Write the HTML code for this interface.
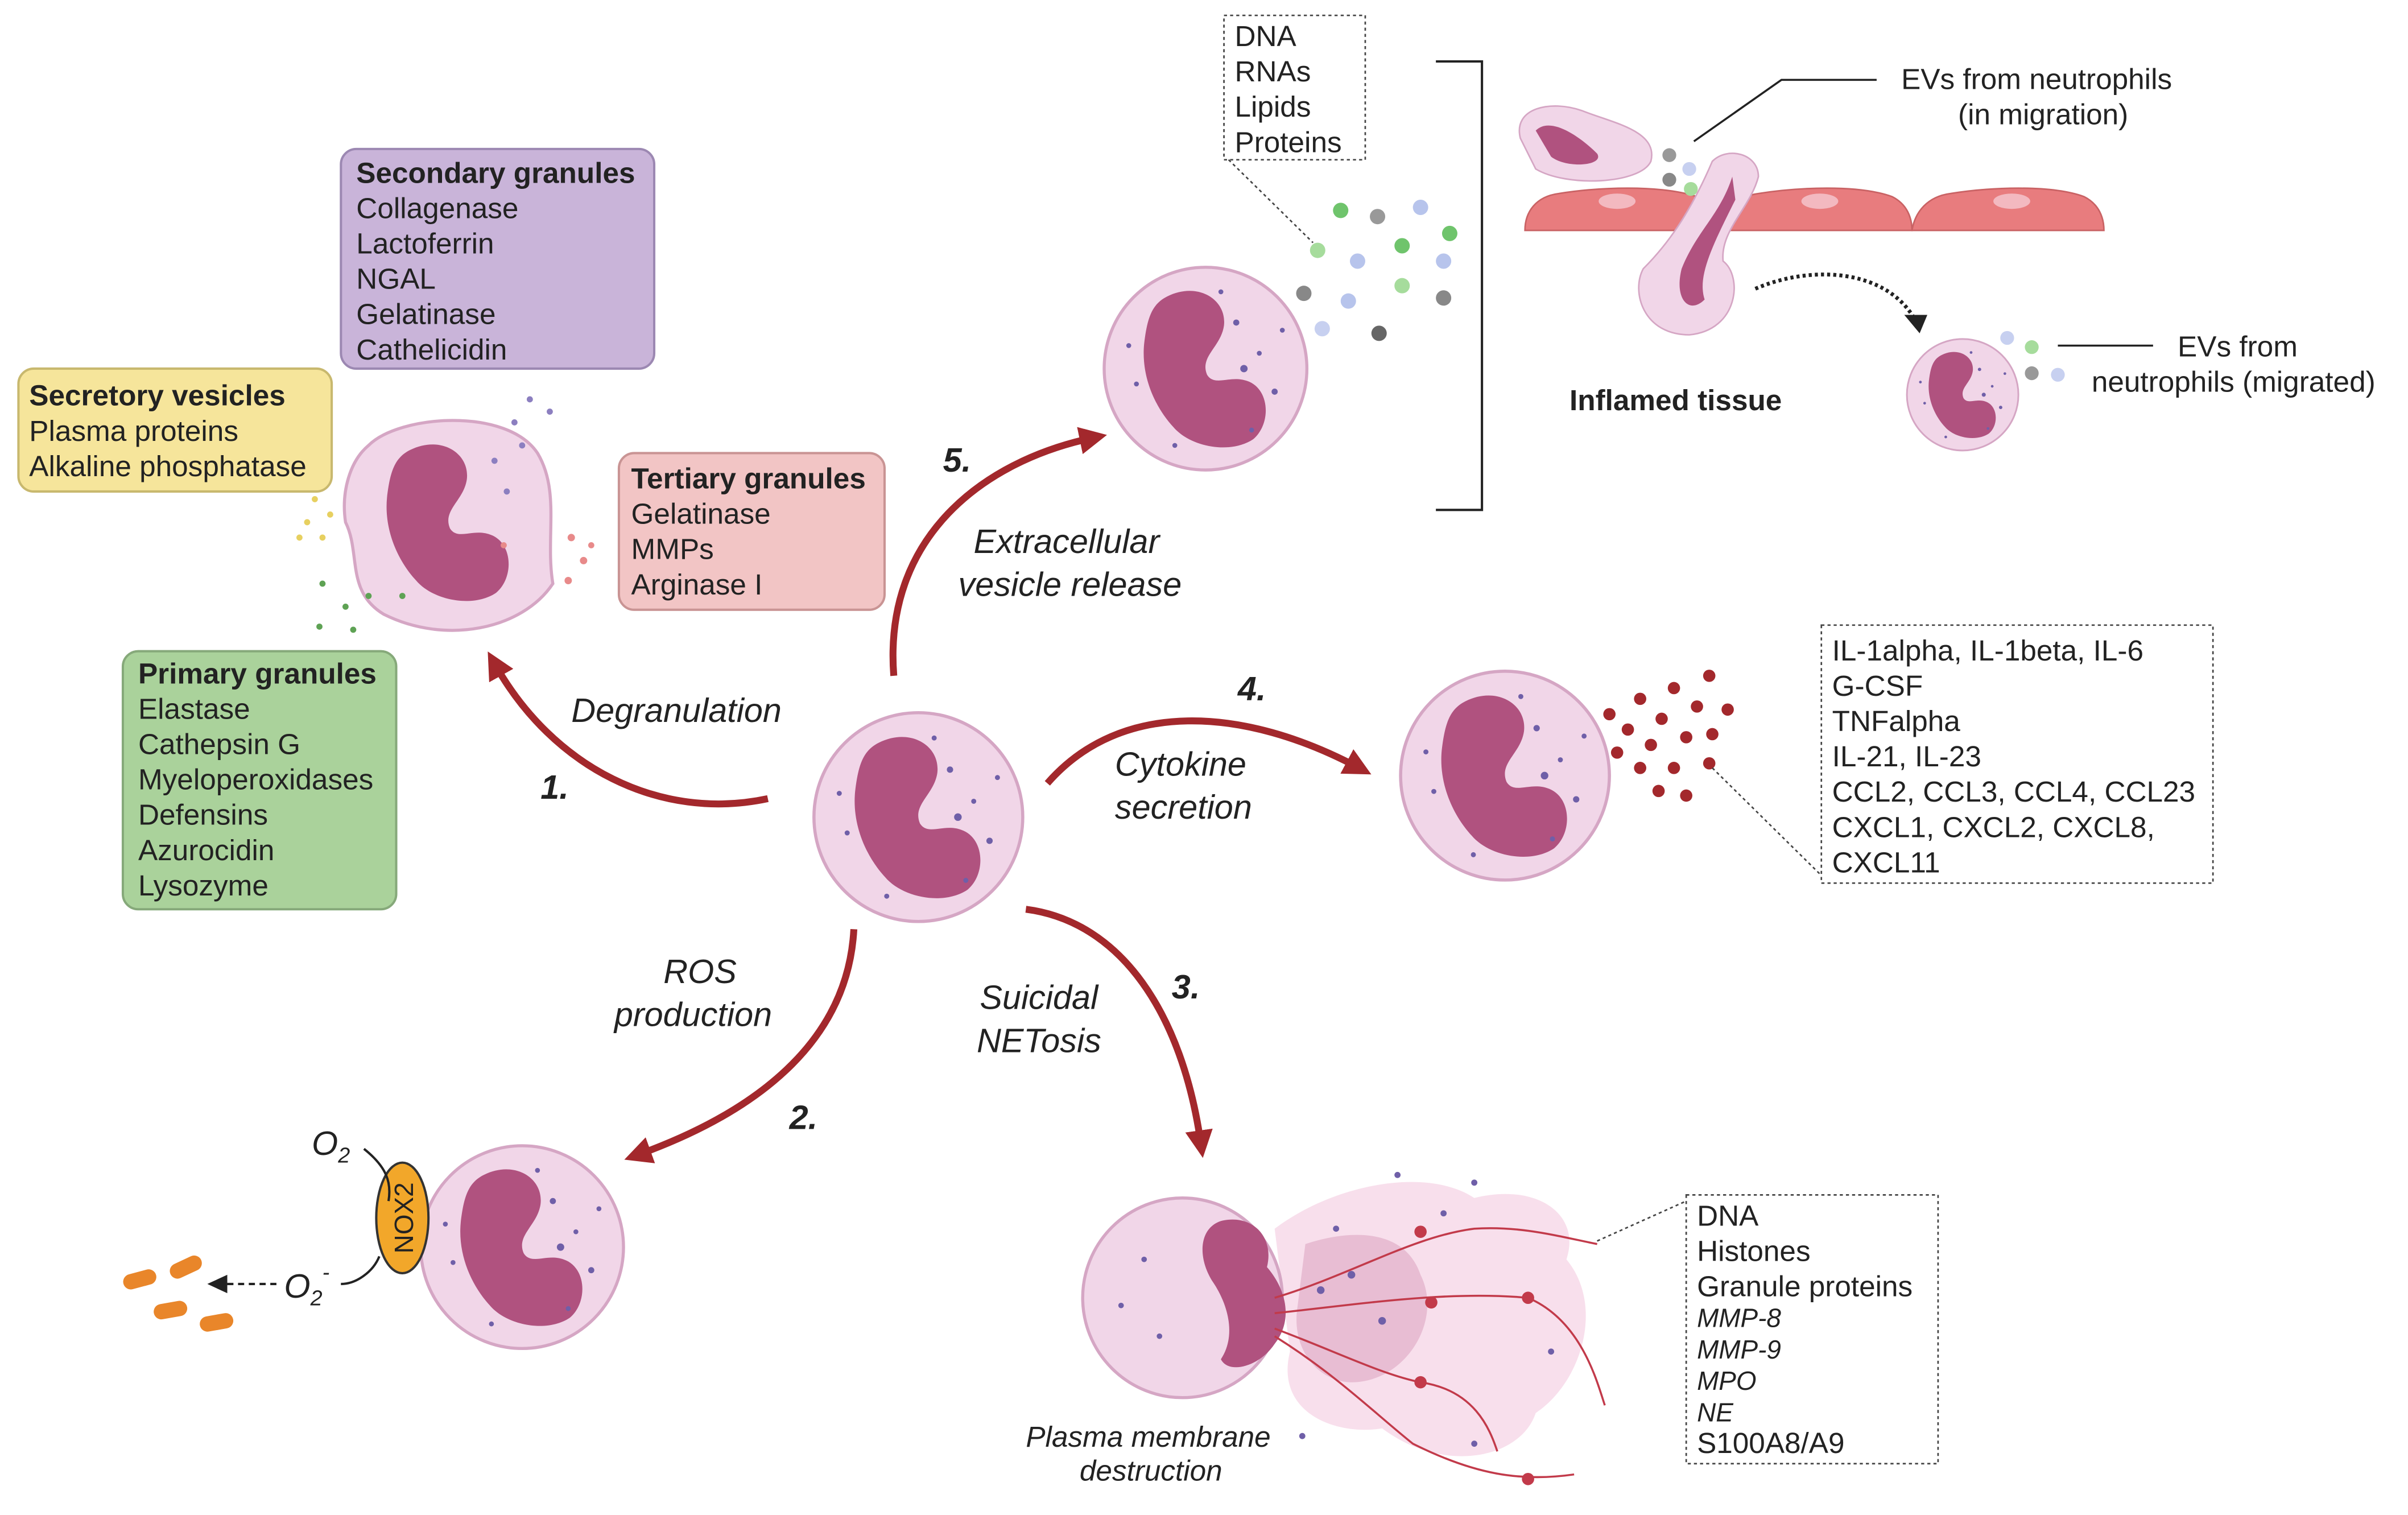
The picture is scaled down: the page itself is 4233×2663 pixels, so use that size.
<!DOCTYPE html>
<html><head><meta charset="utf-8"><style>
html,body{margin:0;padding:0;background:#fff;}
svg{display:block;}
text{font-family:"Liberation Sans",sans-serif;fill:#222;}
.t{font-size:19px;}
.b{font-weight:bold;}
.i{font-style:italic;font-size:22px;}
.n{font-style:italic;font-weight:bold;font-size:22px;}
</style></head><body>
<svg width="4233" height="2663" viewBox="0 0 1568 986.4" xmlns="http://www.w3.org/2000/svg">
<defs>
<g id="nuc"><path d="M-25,-47 C-5,-57 14,-45 12,-28 C10,-14 -4,-8 1,4 C6,12 16,4 27,8 C42,13 43,36 31,46 C16,56 -10,51 -21,38 C-33,25 -42,5 -40,-16 C-38,-33 -35,-42 -25,-47Z" fill="#b0527f"/></g>
<g id="cell"><circle r="66" fill="#f1d6e8" stroke="#d5a6c4" stroke-width="2"/><use href="#nuc"/>
<g fill="#6f5fa8"><circle cx="20" cy="-30" r="2"/><circle cx="35" cy="-10" r="1.6"/><circle cx="-45" cy="10" r="1.6"/><circle cx="30" cy="40" r="1.6"/><circle cx="-20" cy="50" r="1.6"/><circle cx="45" cy="15" r="2"/><circle cx="10" cy="-50" r="1.6"/><circle cx="-50" cy="-15" r="1.6"/><circle cx="25" cy="0" r="2.4"/><circle cx="50" cy="-25" r="1.6"/></g></g>
<marker id="ah" markerWidth="4" markerHeight="4" refX="2" refY="2" orient="auto" markerUnits="strokeWidth"><path d="M0,0 L4,2 L0,4Z" fill="#a3282c"/></marker>
</defs>
<g fill="none" stroke="#a3282c" stroke-width="4.5" marker-end="url(#ah)">
<path d="M500,520 C430,535 360,500 322,432"/>
<path d="M582,440 C575,350 640,300 712,285"/>
<path d="M682,510 C730,455 810,460 885,500"/>
<path d="M668,592 C730,600 770,660 782,745"/>
<path d="M556,605 C552,680 490,725 415,752"/>
</g>
<text class="i" x="372" y="470">Degranulation</text>
<text class="n" x="352" y="520">1.</text>
<text class="i" x="634" y="360">Extracellular</text>
<text class="i" x="624" y="388">vesicle release</text>
<text class="n" x="614" y="307">5.</text>
<text class="i" x="726" y="505">Cytokine</text>
<text class="i" x="726" y="533">secretion</text>
<text class="n" x="806" y="456">4.</text>
<text class="i" x="638" y="657">Suicidal</text>
<text class="i" x="636" y="685">NETosis</text>
<text class="n" x="763" y="650">3.</text>
<text class="i" x="432" y="640">ROS</text>
<text class="i" x="400" y="668">production</text>
<text class="n" x="514" y="735">2.</text>
<rect x="222" y="97" width="204" height="143" rx="10" fill="#c9b4d9" stroke="#9c88b2" stroke-width="1.5"/>
<text class="t" x="232" y="119"><tspan class="b">Secondary granules</tspan><tspan x="232" dy="23">Collagenase</tspan><tspan x="232" dy="23">Lactoferrin</tspan><tspan x="232" dy="23">NGAL</tspan><tspan x="232" dy="23">Gelatinase</tspan><tspan x="232" dy="23">Cathelicidin</tspan></text>
<rect x="12" y="240" width="204" height="80" rx="10" fill="#f6e59b" stroke="#c8b86e" stroke-width="1.5"/>
<text class="t" x="19" y="264"><tspan class="b">Secretory vesicles</tspan><tspan x="19" dy="23">Plasma proteins</tspan><tspan x="19" dy="23">Alkaline phosphatase</tspan></text>
<rect x="403" y="295" width="173" height="102" rx="10" fill="#f2c5c5" stroke="#c99494" stroke-width="1.5"/>
<text class="t" x="411" y="318"><tspan class="b">Tertiary granules</tspan><tspan x="411" dy="23">Gelatinase</tspan><tspan x="411" dy="23">MMPs</tspan><tspan x="411" dy="23">Arginase I</tspan></text>
<rect x="80" y="424" width="178" height="168" rx="10" fill="#aad29b" stroke="#86a97a" stroke-width="1.5"/>
<text class="t" x="90" y="445"><tspan class="b">Primary granules</tspan><tspan x="90" dy="23">Elastase</tspan><tspan x="90" dy="23">Cathepsin G</tspan><tspan x="90" dy="23">Myeloperoxidases</tspan><tspan x="90" dy="23">Defensins</tspan><tspan x="90" dy="23">Azurocidin</tspan><tspan x="90" dy="23">Lysozyme</tspan></text>
<path d="M240,290 C260,270 330,265 350,295 C365,320 355,350 360,380 C340,410 290,420 250,400 C225,385 235,360 225,340 C222,320 228,300 240,290Z" fill="#f1d6e8" stroke="#d5a6c4" stroke-width="2"/>
<g transform="translate(292,340)"><use href="#nuc"/></g>
<g fill="#8c7fc0"><circle cx="345" cy="260" r="2"/><circle cx="358" cy="268" r="2"/><circle cx="335" cy="275" r="2"/><circle cx="322" cy="300" r="2"/><circle cx="330" cy="320" r="2"/><circle cx="340" cy="290" r="2"/></g>
<g fill="#e7d060"><circle cx="200" cy="340" r="2"/><circle cx="210" cy="350" r="2"/><circle cx="195" cy="350" r="2"/><circle cx="215" cy="335" r="2"/><circle cx="205" cy="325" r="2"/></g>
<g fill="#e88a8a"><circle cx="372" cy="350" r="2.4"/><circle cx="380" cy="365" r="2.4"/><circle cx="370" cy="378" r="2.4"/><circle cx="385" cy="355" r="2"/><circle cx="328" cy="355" r="2"/></g>
<g fill="#5ea254"><circle cx="210" cy="380" r="2"/><circle cx="225" cy="395" r="2"/><circle cx="208" cy="408" r="2"/><circle cx="240" cy="388" r="2"/><circle cx="262" cy="388" r="2"/><circle cx="230" cy="410" r="2"/></g>
<g transform="translate(598,532) scale(1.03)"><use href="#cell"/></g>
<g transform="translate(785,240)"><use href="#cell"/></g>
<g transform="translate(980,505) scale(1.03)"><use href="#cell"/></g>
<g transform="translate(340,812)"><use href="#cell"/></g>
<g><circle cx="873" cy="137" r="5" fill="#6fc46c"/><circle cx="897" cy="141" r="5" fill="#999"/><circle cx="925" cy="135" r="5" fill="#b7c4ec"/><circle cx="944" cy="152" r="5" fill="#6fc46c"/><circle cx="913" cy="160" r="5" fill="#6fc46c"/><circle cx="884" cy="170" r="5" fill="#b7c4ec"/><circle cx="858" cy="163" r="5" fill="#a6dc9c"/><circle cx="849" cy="191" r="5" fill="#888"/><circle cx="878" cy="196" r="5" fill="#b7c4ec"/><circle cx="913" cy="186" r="5" fill="#a6dc9c"/><circle cx="940" cy="170" r="5" fill="#b7c4ec"/><circle cx="940" cy="194" r="5" fill="#888"/><circle cx="861" cy="214" r="5" fill="#c7d0f0"/><circle cx="898" cy="217" r="5" fill="#666"/></g>
<rect x="797" y="10" width="92" height="94" fill="none" stroke="#444" stroke-dasharray="2,2"/>
<text class="t" x="804" y="30"><tspan>DNA</tspan><tspan x="804" dy="23">RNAs</tspan><tspan x="804" dy="23">Lipids</tspan><tspan x="804" dy="23">Proteins</tspan></text>
<path d="M800,104 L855,158" stroke="#444" stroke-dasharray="2,2" fill="none"/>
<path d="M935,40 L965,40 L965,332 L935,332" fill="none" stroke="#222" stroke-width="1.5"/>
<g fill="#e87c7e" stroke="#c96264" stroke-width="1">
<path d="M993,150 C993,138 1000,128 1015,126 C1040,122 1080,120 1105,128 C1115,133 1120,142 1120,150Z"/>
<path d="M1120,150 C1122,138 1130,128 1145,126 C1170,122 1210,120 1232,128 C1242,133 1245,142 1245,150Z"/>
<path d="M1245,150 C1247,138 1255,128 1270,126 C1295,122 1335,120 1357,128 C1367,133 1370,142 1370,150Z"/>
</g>
<g fill="#f3b9c0"><ellipse cx="1053" cy="131" rx="12" ry="5"/><ellipse cx="1185" cy="131" rx="12" ry="5"/><ellipse cx="1310" cy="131" rx="12" ry="5"/></g>
<path d="M990,90 C985,70 1010,65 1030,72 C1050,80 1080,85 1075,105 C1068,120 1020,122 1000,110 Z" fill="#f1d6e8" stroke="#d5a6c4"/>
<path d="M1000,85 C1010,75 1030,90 1040,100 C1045,108 1020,110 1010,102Z" fill="#b0527f"/>
<path d="M1115,105 C1125,95 1145,100 1145,115 C1140,135 1120,150 1122,170 C1135,180 1132,215 1100,218 C1070,218 1062,190 1070,175 C1085,160 1100,140 1115,105Z" fill="#f1d6e8" stroke="#d5a6c4"/>
<path d="M1128,115 C1120,140 1105,150 1095,175 C1090,195 1100,205 1110,195 C1105,180 1115,160 1130,130Z" fill="#b0527f"/>
<g><circle cx="1087" cy="101" r="4.5" fill="#999"/><circle cx="1100" cy="110" r="4.5" fill="#c7d0f0"/><circle cx="1087" cy="117" r="4.5" fill="#888"/><circle cx="1101" cy="123" r="4.5" fill="#a6dc9c"/></g>
<path d="M1103,92 L1160,52 L1222,52" fill="none" stroke="#222" stroke-width="1.3"/>
<text class="t" x="1238" y="58">EVs from neutrophils</text>
<text class="t" x="1275" y="81">(in migration)</text>
<path d="M1143,188 C1180,172 1230,175 1248,210" fill="none" stroke="#222" stroke-width="2.5" stroke-dasharray="2,2"/>
<path d="M1240,205 L1255,205 L1250,217Z" fill="#222"/>
<text class="t b" x="1022" y="267">Inflamed tissue</text>
<g transform="translate(1278,257) scale(0.55)"><use href="#cell"/></g>
<g><circle cx="1307" cy="220" r="4.5" fill="#c7d0f0"/><circle cx="1323" cy="226" r="4.5" fill="#a6dc9c"/><circle cx="1323" cy="243" r="4.5" fill="#999"/><circle cx="1340" cy="244" r="4.5" fill="#c7d0f0"/></g>
<path d="M1340,225 L1402,225" stroke="#222" stroke-width="1.3"/>
<text class="t" x="1418" y="232">EVs from</text>
<text class="t" x="1362" y="255">neutrophils (migrated)</text>
<g fill="#a3282c"><circle cx="1048" cy="465" r="4"/><circle cx="1068" cy="455" r="4"/><circle cx="1090" cy="448" r="4"/><circle cx="1113" cy="440" r="4"/><circle cx="1060" cy="475" r="4"/><circle cx="1082" cy="468" r="4"/><circle cx="1105" cy="460" r="4"/><circle cx="1125" cy="462" r="4"/><circle cx="1053" cy="490" r="4"/><circle cx="1075" cy="485" r="4"/><circle cx="1098" cy="480" r="4"/><circle cx="1115" cy="478" r="4"/><circle cx="1068" cy="500" r="4"/><circle cx="1090" cy="500" r="4"/><circle cx="1080" cy="515" r="4"/><circle cx="1098" cy="518" r="4"/><circle cx="1113" cy="497" r="4"/></g>
<rect x="1186" y="407" width="255" height="168" fill="none" stroke="#444" stroke-dasharray="2,2"/>
<path d="M1115,500 L1186,570" stroke="#444" stroke-dasharray="2,2" fill="none"/>
<text class="t" x="1193" y="430"><tspan>IL-1alpha, IL-1beta, IL-6</tspan><tspan x="1193" dy="23">G-CSF</tspan><tspan x="1193" dy="23">TNFalpha</tspan><tspan x="1193" dy="23">IL-21, IL-23</tspan><tspan x="1193" dy="23">CCL2, CCL3, CCL4, CCL23</tspan><tspan x="1193" dy="23">CXCL1, CXCL2, CXCL8,</tspan><tspan x="1193" dy="23">CXCL11</tspan></text>
<ellipse cx="262" cy="793" rx="17" ry="36" fill="#f2a72a" stroke="#333" stroke-width="1.5"/>
<text x="262" y="800" font-size="17" text-anchor="middle" transform="rotate(-90 262 793)">NOX2</text>
<text x="203" y="752" font-size="22" font-style="italic">O<tspan font-size="14" dy="5">2</tspan></text>
<path d="M237,748 C252,760 255,770 253,782" fill="none" stroke="#222" stroke-width="1.5"/>
<text x="185" y="845" font-size="22" font-style="italic">O<tspan font-size="14" dy="5">2</tspan><tspan font-size="14" dy="-17">-</tspan></text>
<path d="M247,818 C243,828 232,836 222,836" fill="none" stroke="#222" stroke-width="1.5"/>
<path d="M180,836 L145,836" stroke="#222" stroke-width="1.5" stroke-dasharray="4,3"/>
<path d="M135,836 L148,830 L148,842Z" fill="#222"/>
<g fill="#e9862a"><rect x="80" y="828" width="22" height="10" rx="5" transform="rotate(-15 91 833)"/><rect x="110" y="820" width="22" height="10" rx="5" transform="rotate(-25 121 825)"/><rect x="100" y="848" width="22" height="10" rx="5" transform="rotate(-10 111 853)"/><rect x="130" y="856" width="22" height="10" rx="5" transform="rotate(-10 141 861)"/></g>
<path d="M830,800 C870,770 930,760 960,780 C1000,770 1030,790 1020,820 C1045,850 1030,900 1000,920 C990,950 940,960 900,930 C870,935 830,920 840,880 Z" fill="#f7dbea" opacity="0.9"/>
<path d="M850,810 C880,800 915,800 925,830 C940,860 915,900 880,900 C860,900 840,880 845,850 Z" fill="#e4b4cd" opacity="0.8"/>
<circle cx="770" cy="845" r="65" fill="#f1d6e8" stroke="#d5a6c4" stroke-width="2"/>
<path d="M795,795 C815,790 830,805 825,825 C838,840 842,860 830,875 C820,890 800,895 795,885 C805,870 800,850 790,835 C780,820 780,800 795,795Z" fill="#b0527f"/>
<g fill="none" stroke="#c23a4a" stroke-width="1.3">
<path d="M830,845 C880,830 920,805 960,800 C990,798 1015,805 1040,810"/>
<path d="M830,855 C880,850 940,840 995,845 C1030,860 1040,900 1045,915"/>
<path d="M830,865 C870,880 900,895 925,900 C960,905 970,930 975,945"/>
<path d="M830,870 C870,895 895,920 920,940 C960,960 990,965 1025,960"/>
</g>
<g fill="#c23a4a"><circle cx="925" cy="802" r="4"/><circle cx="995" cy="845" r="4"/><circle cx="932" cy="848" r="4"/><circle cx="925" cy="900" r="4"/><circle cx="995" cy="963" r="4"/></g>
<g fill="#6f5fa8"><circle cx="745" cy="820" r="1.8"/><circle cx="755" cy="870" r="1.8"/><circle cx="730" cy="850" r="1.8"/><circle cx="860" cy="840" r="2.5"/><circle cx="880" cy="830" r="2.5"/><circle cx="900" cy="860" r="2.5"/><circle cx="940" cy="790" r="2"/><circle cx="960" cy="770" r="2"/><circle cx="870" cy="800" r="2"/><circle cx="1010" cy="880" r="2"/><circle cx="960" cy="940" r="2"/><circle cx="848" cy="935" r="2"/><circle cx="910" cy="765" r="2"/></g>
<rect x="1098" y="778" width="164" height="175" fill="none" stroke="#444" stroke-dasharray="2,2"/>
<path d="M1040,808 L1098,782" stroke="#444" stroke-dasharray="2,2" fill="none"/>
<text class="t" x="1105" y="798"><tspan>DNA</tspan><tspan x="1105" dy="23">Histones</tspan><tspan x="1105" dy="23">Granule proteins</tspan></text>
<text x="1105" y="864" font-size="17" font-style="italic"><tspan>MMP-8</tspan><tspan x="1105" dy="20.5">MMP-9</tspan><tspan x="1105" dy="20.5">MPO</tspan><tspan x="1105" dy="20.5">NE</tspan></text>
<text class="t" x="1105" y="946">S100A8/A9</text>
<text x="668" y="942" font-size="19" font-style="italic">Plasma membrane</text>
<text x="703" y="964" font-size="19" font-style="italic">destruction</text>
</svg>
</body></html>
